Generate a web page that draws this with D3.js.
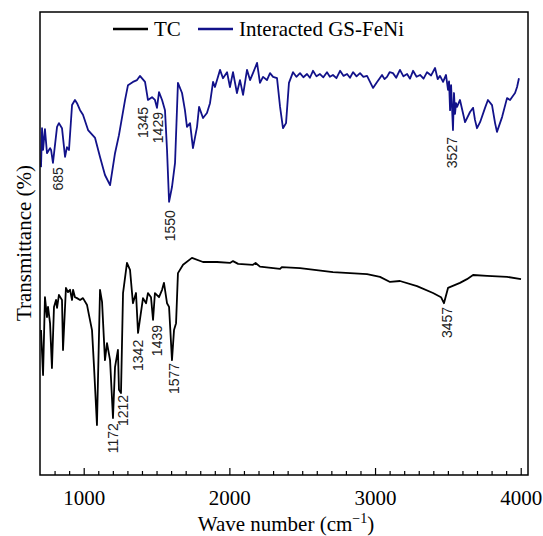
<!DOCTYPE html>
<html>
<head>
<meta charset="utf-8">
<script src="https://cdn.jsdelivr.net/npm/d3@7"></script>
<style>
    body { margin: 0; background: #fff; }
    svg { display: block; }
</style>
</head>
<body>
<svg id="chart" width="543" height="536"></svg>
<script>
// Interacted GS-FeNi spectrum (upper, navy)
var waveGS = [707, 714, 721, 734, 748, 769, 776, 789, 817, 830, 851, 872, 885, 899, 920, 940, 954, 975, 995, 1030,
    1078, 1112, 1146, 1181, 1215, 1242, 1284, 1304, 1338, 1366, 1386, 1421, 1441, 1469, 1489, 1503, 1517, 1538, 1558, 1572,
    1586, 1606, 1627, 1647, 1675, 1695, 1709, 1730, 1750, 1778, 1792, 1819, 1846, 1867, 1888, 1901, 1922, 1936, 1956, 1984,
    2004, 2025, 2052, 2073, 2094, 2121, 2142, 2162, 2190, 2210, 2231, 2258, 2279, 2300, 2327, 2348, 2368, 2389, 2409, 2437,
    2460, 2485, 2508, 2533, 2553, 2574, 2598, 2622, 2645, 2670, 2690, 2711, 2735, 2760, 2784, 2808, 2828, 2849, 2873, 2897,
    2920, 2945, 2986, 3014, 3048, 3065, 3082, 3100, 3123, 3145, 3171, 3195, 3220, 3240, 3261, 3285, 3309, 3333, 3357, 3385,
    3412, 3430, 3446, 3467, 3487, 3501, 3508, 3515, 3522, 3535, 3542, 3549, 3556, 3563, 3583, 3618, 3652, 3673, 3686, 3700,
    3721, 3755, 3775, 3803, 3824, 3837, 3872, 3906, 3927, 3940, 3961, 3975, 3988];
var transGS = [66.5, 74.9, 70.2, 74.7, 69.5, 70.6, 70.2, 67.4, 75.2, 76.0, 74.9, 68.7, 70.8, 70.2, 79.9, 81.0, 80.3, 78.8, 77.8, 74.5,
    72.8, 68.7, 64.8, 62.6, 69.5, 73.4, 81.0, 84.2, 84.9, 85.3, 86.2, 84.9, 81.0, 81.6, 81.0, 79.3, 82.7, 81.0, 78.8, 70.2,
    59.0, 62.2, 67.4, 84.7, 82.5, 78.8, 75.2, 76.0, 70.6, 75.2, 79.5, 77.1, 78.2, 80.3, 84.9, 83.8, 86.0, 87.5, 85.7, 87.0,
    83.8, 87.0, 82.5, 85.3, 82.1, 87.5, 85.3, 86.8, 89.0, 84.7, 86.0, 85.3, 86.8, 86.0, 85.7, 79.5, 74.9, 76.0, 84.7, 87.0,
    86.0, 86.8, 85.9, 86.6, 85.8, 87.3, 86.1, 86.6, 85.9, 87.0, 86.0, 86.4, 85.7, 87.3, 86.2, 86.6, 85.8, 87.0, 86.1, 86.8,
    86.0, 86.2, 83.6, 84.9, 86.4, 85.5, 86.0, 87.0, 86.8, 85.8, 87.5, 86.1, 86.6, 85.6, 87.3, 86.0, 86.4, 85.6, 87.0, 86.3,
    87.9, 85.5, 86.2, 84.9, 86.4, 83.2, 85.0, 78.8, 84.2, 74.5, 82.5, 78.0, 80.3, 79.5, 81.0, 76.2, 78.4, 79.3, 76.7, 74.9,
    76.2, 79.3, 81.0, 79.9, 76.0, 74.1, 77.3, 81.4, 81.0, 81.6, 82.5, 83.8, 85.7];

// TC spectrum (lower, black)
var waveTC = [707, 721, 734, 748, 755, 769, 782, 796, 810, 817, 830, 851, 858, 878, 892, 906, 920, 927, 940, 954,
    975, 995, 1023, 1036, 1057, 1071, 1091, 1112, 1126, 1146, 1160, 1181, 1201, 1215, 1235, 1242, 1256, 1270, 1297, 1318,
    1338, 1359, 1373, 1407, 1428, 1441, 1462, 1476, 1489, 1517, 1538, 1551, 1572, 1586, 1606, 1620, 1634, 1647, 1682, 1743,
    1819, 1915, 2004, 2025, 2060, 2162, 2180, 2210, 2348, 2360, 2485, 2711, 2945, 3034, 3103, 3171, 3288, 3398, 3453, 3473,
    3501, 3583, 3631, 3673, 3769, 3906, 4002];
var transTC = [31.3, 21.6, 38.4, 34.1, 36.3, 32.8, 23.1, 36.3, 37.8, 36.1, 38.9, 37.8, 27.0, 40.4, 39.5, 40.0, 37.8, 40.0, 38.4, 38.2,
    37.8, 38.2, 36.7, 34.6, 31.3, 23.3, 10.8, 40.0, 37.4, 24.8, 28.5, 24.8, 12.3, 23.3, 27.0, 18.4, 17.7, 39.3, 45.8, 44.3,
    37.1, 39.3, 30.7, 38.2, 37.1, 39.3, 38.4, 33.5, 39.3, 38.4, 40.0, 41.5, 37.1, 36.3, 24.8, 31.3, 32.8, 43.6, 45.4, 46.9,
    46.0, 46.0, 45.8, 46.2, 45.6, 45.4, 45.8, 45.0, 44.5, 44.9, 44.7, 43.8, 43.4, 42.8, 41.7, 41.9, 40.8, 39.3, 38.4, 37.1,
    40.4, 41.5, 42.3, 43.2, 43.0, 42.8, 42.3];

// peak annotations
var peakText = ['685', '1345', '1429', '1550', '3527', '1172', '1212', '1342', '1439', '1577', '3457'];
var peakWave = [824, 1407, 1510, 1592, 3528, 1201, 1270, 1373, 1503, 1620, 3494];
var peakTrans = [66.5, 79.5, 78.4, 57.2, 73.0, 11.2, 17.3, 29.2, 32.4, 24.2, 36.3];

var seriesNames = ['TC', 'Interacted GS-FeNi'];
var seriesColors = ['#000000', '#12128a'];
var xTicks = [1000, 2000, 3000, 4000];

var plotLeft = 40, plotRight = 528, plotTop = 12, plotBottom = 475;
var serif = '"Liberation Serif", "Times New Roman", serif';

var svg = d3.select('#chart');

var xScale = d3.scaleLinear().domain([700, 4050]).range([plotLeft, plotRight]);
var yScale = d3.scaleLinear().domain([0, 100]).range([plotBottom, plotTop]);

function toPoints(xs, ys) {
    return xs.map(function (x, i) { return [x, ys[i]]; });
}

var line = d3.line()
    .x(function (d) { return xScale(d[0]); })
    .y(function (d) { return yScale(d[1]); });

// spectra
svg.append('path')
    .datum(toPoints(waveGS, transGS))
    .attr('d', line)
    .attr('fill', 'none')
    .attr('stroke', seriesColors[1])
    .attr('stroke-width', 1.8)
    .attr('stroke-linejoin', 'round');

svg.append('path')
    .datum(toPoints(waveTC, transTC))
    .attr('d', line)
    .attr('fill', 'none')
    .attr('stroke', seriesColors[0])
    .attr('stroke-width', 1.8)
    .attr('stroke-linejoin', 'round');

// frame
svg.append('rect')
    .attr('x', plotLeft)
    .attr('y', plotTop)
    .attr('width', plotRight - plotLeft)
    .attr('height', plotBottom - plotTop)
    .attr('fill', 'none')
    .attr('stroke', '#000')
    .attr('stroke-width', 1.5);

// bottom axis, ticks pointing inward
var minorTicks = d3.range(800, 4001, 100).filter(function (v) { return v % 1000 != 0; });
var minorAxis = svg.append('g')
    .attr('transform', 'translate(0,' + plotBottom + ')')
    .call(d3.axisBottom(xScale).tickValues(minorTicks).tickSize(-4).tickFormat(''));
minorAxis.select('.domain').remove();

var majorAxis = svg.append('g')
    .attr('transform', 'translate(0,' + plotBottom + ')')
    .call(d3.axisBottom(xScale).tickValues(xTicks).tickSize(-7).tickPadding(15).tickFormat(d3.format('d')));
majorAxis.select('.domain').remove();
majorAxis.selectAll('text')
    .attr('font-family', serif)
    .attr('font-size', 21)
    .attr('fill', '#000');
svg.selectAll('.tick line').attr('stroke', '#000').attr('stroke-width', 1.2);

// axis titles
var xTitle = svg.append('text')
    .attr('x', 286)
    .attr('y', 531)
    .attr('text-anchor', 'middle')
    .attr('font-family', serif)
    .attr('font-size', 21)
    .text('Wave number (cm');
xTitle.append('tspan')
    .attr('font-size', 14)
    .attr('dy', -8)
    .text('\u22121');
xTitle.append('tspan')
    .attr('dy', 8)
    .text(')');

svg.append('text')
    .attr('transform', 'translate(31,243) rotate(-90)')
    .attr('text-anchor', 'middle')
    .attr('font-family', serif)
    .attr('font-size', 21)
    .text('Transmittance (%)');

// peak labels
svg.selectAll('.peakLabel')
    .data(peakText)
    .enter()
    .append('text')
    .attr('class', 'peakLabel')
    .attr('transform', function (d, i) {
        return 'translate(' + xScale(peakWave[i]) + ',' + yScale(peakTrans[i]) + ') rotate(-90)';
    })
    .attr('y', 5)
    .attr('text-anchor', 'end')
    .attr('font-family', '"Liberation Sans", Arial, sans-serif')
    .attr('font-size', 14)
    .attr('fill', '#222')
    .text(function (d) { return d; });

// legend
var legendX = [113, 198];
var legend = svg.selectAll('.legendItem')
    .data(seriesNames)
    .enter()
    .append('g')
    .attr('class', 'legendItem')
    .attr('transform', function (d, i) { return 'translate(' + legendX[i] + ',29)'; });
legend.append('line')
    .attr('x1', 0)
    .attr('x2', 35)
    .attr('stroke', function (d, i) { return seriesColors[i]; })
    .attr('stroke-width', 2.5);
legend.append('text')
    .attr('x', 41)
    .attr('y', 7)
    .attr('font-family', serif)
    .attr('font-size', 21)
    .text(function (d) { return d; });
</script>
</body>
</html>
